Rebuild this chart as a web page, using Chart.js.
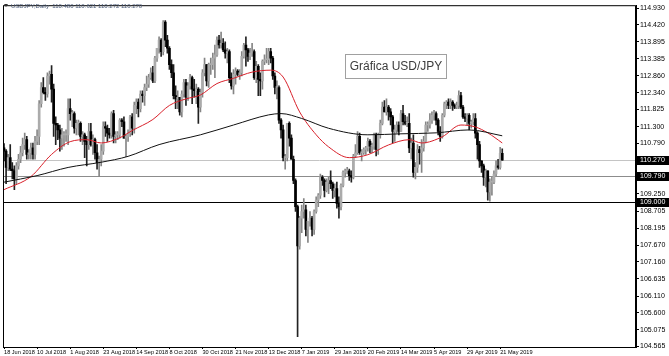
<!DOCTYPE html>
<html>
<head>
<meta charset="utf-8">
<script src="https://cdn.jsdelivr.net/npm/chart.js@4.4.1/dist/chart.umd.min.js"></script>
<style>
  html, body { margin: 0; padding: 0; background: #fff; overflow: hidden; }
  canvas { display: block; }
</style>
</head>
<body>
<canvas id="usdjpy" width="669" height="356"></canvas>
<script>
// USDJPY daily candles, [open, high, low, close]
const jun2018 = [
  [110.65,110.78,110.25,110.55],[110.55,110.60,109.55,110.05],[110.05,110.45,109.95,110.35],[110.35,110.75,109.95,110.00],
  [110.00,110.20,109.70,109.95],[109.95,110.10,109.37,109.70],[109.70,110.20,109.55,110.10],[110.10,110.45,110.00,110.30],
  [110.30,110.70,110.20,110.50],[110.50,110.95,110.40,110.75]
];
const jul2018 = [
  [110.75,111.10,110.60,110.90],[110.90,111.00,110.30,110.45],[110.45,110.60,110.30,110.50],[110.50,110.80,110.30,110.65],
  [110.65,110.80,110.30,110.45],[110.45,111.00,110.30,110.85],[110.85,111.20,110.75,111.00],[111.00,112.10,110.75,112.00],
  [112.00,112.65,111.90,112.50],[112.50,112.80,112.30,112.35],[112.35,112.50,112.10,112.30],[112.30,112.95,112.20,112.85],
  [112.85,113.00,112.60,112.90],[112.90,113.17,112.05,112.45],[112.45,112.60,111.00,111.40],[111.40,111.60,110.75,111.35],
  [111.35,111.40,110.90,111.20],[111.20,111.35,110.55,110.95],[110.95,111.25,110.60,111.05],[111.05,111.15,110.70,111.05],
  [111.05,111.20,110.85,111.05],[111.05,112.15,110.75,111.85]
];
const aug2018 = [
  [111.85,112.15,111.50,111.70],[111.70,111.80,111.30,111.70],[111.70,111.75,111.10,111.25],[111.25,111.50,111.05,111.40],
  [111.40,111.50,111.05,111.40],[111.40,111.45,110.85,111.00],[111.00,111.15,110.75,111.05],[111.05,111.10,110.35,110.85],
  [110.85,111.00,110.10,110.75],[110.75,111.40,110.60,111.15],[111.15,111.40,110.70,110.75],[110.75,111.05,110.45,110.90],
  [110.90,110.95,110.30,110.50],[110.50,110.75,110.00,110.20],[110.20,110.40,109.77,110.30],[110.30,110.75,110.10,110.55],
  [110.55,111.45,110.45,111.30],[111.30,111.45,111.00,111.25],[111.25,111.35,110.85,111.10],[111.10,111.25,110.95,111.05],
  [111.05,111.75,110.95,111.70],[111.70,111.80,110.80,111.00],[111.00,111.15,110.80,111.05]
];
const sep2018 = [
  [111.05,111.15,110.90,111.05],[111.05,111.55,110.95,111.50],[111.50,111.55,111.30,111.45],[111.45,111.60,110.95,110.95],
  [110.95,111.05,110.38,111.00],[111.00,111.20,110.85,111.10],[111.10,111.65,111.00,111.60],[111.60,111.70,111.05,111.25],
  [111.25,112.05,111.10,111.95],[111.95,112.15,111.70,112.05],[112.05,112.15,111.60,111.85],[111.85,112.40,111.75,112.30],
  [112.30,112.40,112.05,112.25],[112.25,112.60,111.95,112.50],[112.50,112.85,112.40,112.60],[112.60,112.90,112.50,112.80],
  [112.80,113.10,112.75,112.95],[112.95,113.15,112.65,112.70],[112.70,113.45,112.65,113.40],[113.40,113.70,113.30,113.70]
];
const oct2018 = [
  [113.70,114.05,113.55,113.95],[113.95,114.00,113.45,113.60],[113.60,114.55,113.50,114.50],[114.50,114.55,113.75,113.95],
  [113.95,114.10,113.55,113.70],[113.70,113.75,113.05,113.20],[113.20,113.35,112.80,112.95],[112.95,113.20,112.15,112.25],
  [112.25,112.55,111.85,112.15],[112.15,112.40,111.85,112.20],[112.20,112.20,111.65,111.75],[111.75,112.40,111.60,112.30],
  [112.30,112.75,112.20,112.65],[112.65,112.75,111.95,112.20],[112.20,112.65,112.10,112.55],[112.55,112.90,112.45,112.80],
  [112.80,112.85,112.00,112.45],[112.45,112.75,112.20,112.40],[112.40,112.60,112.00,112.45],[112.45,112.50,111.40,111.90],
  [111.90,112.45,111.75,112.35],[112.35,113.05,112.20,112.95],[112.95,113.40,112.85,113.20]
];
const nov2018 = [
  [113.20,113.20,112.55,112.70],[112.70,113.25,112.50,113.20],[113.20,113.40,112.90,113.20],[113.20,113.55,113.05,113.40],
  [113.40,113.80,112.80,113.50],[113.50,114.05,113.45,113.95],[113.95,114.10,113.70,113.80],[113.80,114.20,113.70,113.85],
  [113.85,114.00,113.60,113.65],[113.65,113.90,113.40,113.55],[113.55,113.70,113.25,113.60],[113.60,113.65,112.65,112.80],
  [112.80,112.95,112.45,112.55],[112.55,113.05,112.30,112.90],[112.90,113.10,112.60,113.00],[113.00,113.05,112.85,112.90],
  [112.90,113.05,112.75,112.95],[112.95,113.60,112.85,113.45],[113.45,113.85,113.40,113.80],[113.80,114.05,113.15,113.65],
  [113.65,113.70,113.30,113.45],[113.45,113.70,113.35,113.55]
];
const dec2018 = [
  [113.55,113.85,113.45,113.60],[113.60,113.65,112.75,112.80],[112.80,113.30,112.65,113.15],[113.15,113.20,112.25,112.75],
  [112.75,112.95,112.25,112.70],[112.70,113.35,112.45,113.30],[113.30,113.50,113.20,113.35],[113.35,113.70,113.25,113.35],
  [113.35,113.70,113.20,113.60],[113.60,113.70,113.25,113.40],[113.40,113.45,112.75,112.85],[112.85,112.95,112.30,112.50],
  [112.50,112.70,112.15,112.50],[112.50,112.55,111.40,111.50],[111.50,111.55,110.95,111.20],[111.20,111.35,110.25,110.35],
  [110.35,110.45,110.00,110.35],[110.35,111.40,110.25,111.40],[111.40,111.45,110.70,110.95],[110.95,111.05,110.30,110.30],
  [110.30,110.40,109.55,109.65]
];
const jan2019 = [
  [109.65,109.70,108.70,108.85],[108.85,108.90,104.87,107.65],[107.65,108.55,107.55,108.50],[108.50,108.90,108.05,108.70],
  [108.70,109.10,108.50,108.75],[108.75,108.90,107.95,108.15],[108.15,108.40,107.75,108.40],[108.40,108.70,108.25,108.50],
  [108.50,108.55,107.95,108.15],[108.15,108.75,108.00,108.70],[108.70,109.15,108.65,109.05],[109.05,109.25,108.85,109.20],
  [109.20,109.85,109.10,109.75],[109.75,109.80,109.50,109.65],[109.65,109.70,109.15,109.35],[109.35,109.70,109.30,109.60],
  [109.60,109.75,109.25,109.65],[109.65,109.95,109.40,109.55],[109.55,109.60,109.10,109.35],[109.35,109.55,109.15,109.40],
  [109.40,109.60,108.80,108.95],[108.95,109.15,108.50,108.85]
];
const feb2019 = [
  [108.85,109.55,108.75,109.50],[109.50,109.95,109.45,109.90],[109.90,110.00,109.75,109.95],[109.95,110.05,109.85,109.95],
  [109.95,110.00,109.65,109.80],[109.80,109.95,109.60,109.75],[109.75,110.45,109.70,110.40],[110.40,110.75,110.35,110.50],
  [110.50,111.15,110.45,111.00],[111.00,111.10,110.45,110.50],[110.50,110.60,110.25,110.50],[110.50,110.65,110.45,110.60],
  [110.60,110.70,110.45,110.65],[110.65,110.95,110.55,110.85],[110.85,110.90,110.50,110.70],[110.70,110.80,110.50,110.70],
  [110.70,111.10,110.60,111.05],[111.05,111.10,110.40,110.60],[110.60,111.10,110.45,111.05],[111.05,111.50,110.95,111.40]
];
const mar2019 = [
  [111.40,112.05,111.35,111.90],[111.90,112.10,111.75,111.75],[111.75,112.15,111.65,111.90],[111.90,111.95,111.50,111.75],
  [111.75,111.85,111.35,111.60],[111.60,111.65,110.80,111.15],[111.15,111.35,110.85,111.20],[111.20,111.45,111.10,111.35],
  [111.35,111.45,111.05,111.15],[111.15,111.80,111.15,111.70],[111.70,111.95,111.35,111.45],[111.45,111.65,111.35,111.40],
  [111.40,111.60,111.30,111.40],[111.40,111.70,110.50,110.65],[110.65,110.95,110.30,110.80],[110.80,111.05,109.75,109.90],
  [109.90,110.20,109.70,110.05],[110.05,110.75,109.90,110.60],[110.60,110.70,110.15,110.50],[110.50,110.90,109.90,110.65],
  [110.65,111.00,110.55,110.85]
];
const apr2019 = [
  [110.85,111.45,110.80,111.35],[111.35,111.45,111.15,111.35],[111.35,111.70,111.25,111.50],[111.50,111.75,111.40,111.65],
  [111.65,111.80,111.50,111.70],[111.70,111.75,111.35,111.50],[111.50,111.55,111.05,111.15],[111.15,111.30,110.85,111.00],
  [111.00,111.70,110.95,111.65],[111.65,112.05,111.60,112.00],[112.00,112.10,111.85,112.05],[112.05,112.15,111.85,111.95],
  [111.95,112.15,111.85,112.05],[112.05,112.10,111.80,111.95],[111.95,112.00,111.85,111.90],[111.90,112.05,111.85,111.95],
  [111.95,112.40,111.85,112.25],[112.25,112.35,111.85,111.90],[111.90,111.95,111.55,111.60],[111.60,111.70,111.45,111.55],
  [111.55,111.70,111.35,111.65],[111.65,111.70,111.20,111.40]
];
const may2019 = [
  [111.40,111.50,111.25,111.45],[111.45,111.70,111.35,111.55],[111.55,111.70,110.95,111.10],[111.10,111.15,110.30,110.75],
  [110.75,110.85,110.05,110.25],[110.25,110.25,109.90,110.10],[110.10,110.15,109.50,109.75],[109.75,110.00,109.45,109.95],
  [109.95,109.95,109.05,109.30],[109.30,109.70,109.02,109.60],[109.60,109.75,109.20,109.60],[109.60,109.95,109.55,109.85],
  [109.85,110.25,109.80,110.10],[110.10,110.30,110.00,110.05],[110.05,110.67,110.00,110.48],[110.48,110.621,110.272,110.270]
];
const candles = [].concat(jun2018, jul2018, aug2018, sep2018, oct2018, nov2018,
  dec2018, jan2019, feb2019, mar2019, apr2019, may2019);

// moving averages at a few bars (bar index -> price)
const maSlowBars = [0, 16, 31, 47, 60, 75, 95, 111, 128, 134, 144, 157, 176, 192, 209, 225, 241];
const maSlow     = [109.60, 109.80, 110.05, 110.21, 110.39, 110.75, 111.05, 111.35, 111.66, 111.70, 111.55, 111.25, 111.05, 111.08, 111.11, 111.20, 111.02];
const maFastBars = [0, 13, 23, 32, 40, 47, 56, 62, 72, 80, 88, 95, 103, 111, 120, 129, 135, 143, 151, 157, 167, 176, 186, 196, 202, 212, 221, 228, 234, 241];
const maFast     = [109.37, 109.77, 110.45, 110.84, 110.90, 110.80, 110.96, 111.18, 111.52, 111.95, 112.15, 112.27, 112.62, 112.78, 112.97, 113.03, 112.82, 111.75, 111.05, 110.68, 110.35, 110.44, 110.74, 110.90, 110.80, 110.99, 111.35, 111.29, 111.11, 110.80];

// horizontal levels and price scale labels
const levels = [110.270, 109.790, 109.000];
const priceTicks = [114.930, 114.420, 113.895, 113.385, 112.860, 112.340, 111.825, 111.300, 110.790,
  109.250, 108.705, 108.195, 107.670, 107.160, 106.635, 106.110, 105.600, 105.075, 104.565];
const dateTickEvery = 16;

// dates: weekdays from 18 Jun 2018, the feed has no 1 Jan 2019 bar
const startDay = "2018-06-18";
const missingDays = ["2019-01-01"];
const monthNames = ["Jan","Feb","Mar","Apr","May","Jun","Jul","Aug","Sep","Oct","Nov","Dec"];
const dates = [];
let day = new Date(startDay + "T00:00:00Z");
while (dates.length < candles.length) {
  const iso = day.toISOString().slice(0, 10);
  const wd = day.getUTCDay();
  if (wd !== 0 && wd !== 6 && !missingDays.includes(iso)) {
    dates.push(day.getUTCDate() + " " + monthNames[day.getUTCMonth()] + " " + day.getUTCFullYear());
  }
  day.setUTCDate(day.getUTCDate() + 1);
}

const isUp = candles.map(c => c[3] >= c[0]);
const wicks = candles.map((c, i) => ({ x: i, y: [c[2], c[1]] }));
const bodies = candles.map((c, i) => ({ x: i, y: [Math.min(c[0], c[3]), Math.max(c[0], c[3])] }));
const last = candles[candles.length - 1];

const levelColors = ["#c4c4c4", "#8c8c8c", "#000000"];

const overlay = {
  id: "overlay",
  beforeDatasetsDraw(chart) {
    const { ctx, chartArea: a, scales: { y } } = chart;
    ctx.save();
    levels.forEach((v, k) => {
      const py = Math.round(y.getPixelForValue(v)) + 0.5;
      ctx.strokeStyle = levelColors[k];
      ctx.lineWidth = 1;
      ctx.beginPath();
      ctx.moveTo(a.left, py);
      ctx.lineTo(a.right, py);
      ctx.stroke();
    });
    ctx.restore();
  },
  afterDraw(chart) {
    const { ctx, chartArea: a, scales: { y } } = chart;
    ctx.save();
    // frame
    ctx.strokeStyle = "#000";
    ctx.lineWidth = 1;
    ctx.strokeRect(a.left + 0.5, a.top + 0.5, a.right - a.left - 1, a.bottom - a.top);

    // boxed labels on the price scale
    ctx.font = "7px 'Liberation Sans', Arial, sans-serif";
    ctx.textBaseline = "middle";
    ctx.textAlign = "left";
    levels.forEach(v => {
      const py = Math.round(y.getPixelForValue(v));
      ctx.fillStyle = "#000";
      ctx.fillRect(a.right + 1, py - 4, 32, 9);
      ctx.fillStyle = "#fff";
      ctx.fillText(v.toFixed(3), a.right + 4, py + 0.5);
    });

    // symbol line top-left
    ctx.fillStyle = "#333";
    ctx.beginPath();
    ctx.moveTo(4, 4); ctx.lineTo(8, 4); ctx.lineTo(6, 7); ctx.closePath(); ctx.fill();
    ctx.font = "6px 'Liberation Sans', Arial, sans-serif";
    ctx.fillStyle = "#4a5a78";
    ctx.fillText("USDJPY,Daily  " + last.map(v => v.toFixed(3)).join(" "), 11, 6);

    // text label object
    ctx.strokeStyle = "#a0a0a0";
    ctx.strokeRect(345.5, 54.5, 101, 24);
    ctx.fillStyle = "#3c3c3c";
    ctx.font = "12px 'Liberation Sans', Arial, sans-serif";
    ctx.textAlign = "center";
    ctx.fillText("Gráfica USD/JPY", 396, 67);
    ctx.restore();
  }
};

new Chart(document.getElementById("usdjpy"), {
  type: "bar",
  data: {
    datasets: [
      {
        label: "MA slow",
        type: "line",
        data: maSlowBars.map((b, k) => ({ x: b, y: maSlow[k] })),
        borderColor: "#111",
        borderWidth: 1,
        pointRadius: 0,
        cubicInterpolationMode: "monotone",
        order: 0
      },
      {
        label: "MA fast",
        type: "line",
        data: maFastBars.map((b, k) => ({ x: b, y: maFast[k] })),
        borderColor: "#d8202a",
        borderWidth: 1,
        pointRadius: 0,
        cubicInterpolationMode: "monotone",
        order: 0
      },
      {
        label: "Bodies",
        data: bodies,
        backgroundColor: isUp.map(u => u ? "#ababab" : "#000"),
        barThickness: 2,
        minBarLength: 1,
        grouped: false,
        order: 1
      },
      {
        label: "Wicks",
        data: wicks,
        backgroundColor: isUp.map(u => u ? "#858585" : "#222"),
        barThickness: 1,
        minBarLength: 1,
        grouped: false,
        order: 2
      }
    ]
  },
  options: {
    responsive: false,
    animation: false,
    devicePixelRatio: 1,
    layout: { padding: { left: 3, top: 3, right: 0, bottom: 0 } },
    plugins: { legend: { display: false }, tooltip: { enabled: false } },
    scales: {
      x: {
        type: "linear",
        min: -0.5,
        max: 305.7,
        offset: false,
        afterFit: s => { s.height = 9; },
        afterBuildTicks: s => {
          const t = [];
          for (let i = 0; i < dates.length; i += dateTickEvery) t.push({ value: i });
          s.ticks = t;
        },
        grid: { drawOnChartArea: false, tickLength: 2, color: "#000", offset: false },
        border: { display: true, color: "#000" },
        ticks: {
          align: "start",
          maxRotation: 0,
          autoSkip: false,
          padding: 0,
          color: "#000",
          font: { family: "'Liberation Sans', Arial, sans-serif", size: 5.6 },
          callback: v => dates[v] || ""
        }
      },
      y: {
        position: "right",
        min: 104.55,
        max: 115.02,
        afterFit: s => { s.width = 33; },
        afterBuildTicks: s => { s.ticks = priceTicks.map(v => ({ value: v })); },
        grid: { drawOnChartArea: false, tickLength: 3, color: "#000" },
        border: { display: true, color: "#000" },
        ticks: {
          padding: 1,
          color: "#000",
          font: { family: "'Liberation Sans', Arial, sans-serif", size: 7 },
          callback: v => Number(v).toFixed(3)
        }
      }
    }
  },
  plugins: [overlay]
});
</script>
</body>
</html>
